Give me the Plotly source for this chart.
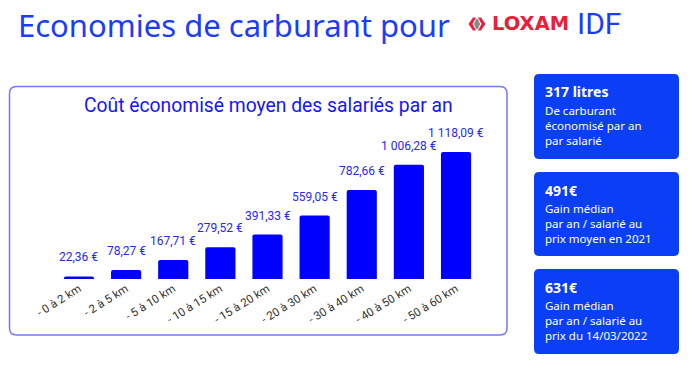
import plotly.graph_objects as go

W, H = 695, 376

categories = ["- 0 à 2 km", "- 2 à 5 km", "- 5 à 10 km", "- 10 à 15 km", "- 15 à 20 km",
              "- 20 à 30 km", "- 30 à 40 km", "- 40 à 50 km", "- 50 à 60 km"]
values = [22.36, 78.27, 167.71, 279.52, 391.33, 559.05, 782.66, 1006.28, 1118.09]
value_labels = ["22,36 €", "78,27 €", "167,71 €", "279,52 €", "391,33 €",
                "559,05 €", "782,66 €", "1 006,28 €", "1 118,09 €"]

card_titles = ["317 litres", "491€", "631€"]
card_lines = [
    ["De carburant", "économisé par an", "par salarié"],
    ["Gain médian", "par an / salarié au", "prix moyen en 2021"],
    ["Gain médian", "par an / salarié au", "prix du 14/03/2022"],
]

BLUE_BAR = "#0000ff"
CARD_BLUE = "#0b3ff5"
TITLE_BLUE = "#1a3cff"


def px(x):
    return x / W


def py(y):
    return 1 - y / H


def P(x, y):
    return f"{px(x):.5f},{py(y):.5f}"


def rrect(x0, y0, x1, y1, r):
    return (
        f"M {P(x0 + r, y0)} L {P(x1 - r, y0)} Q {P(x1, y0)} {P(x1, y0 + r)} "
        f"L {P(x1, y1 - r)} Q {P(x1, y1)} {P(x1 - r, y1)} "
        f"L {P(x0 + r, y1)} Q {P(x0, y1)} {P(x0, y1 - r)} "
        f"L {P(x0, y0 + r)} Q {P(x0, y0)} {P(x0 + r, y0)} Z"
    )


def poly(pts):
    return "M " + " L ".join(P(x, y) for x, y in pts) + " Z"


fig = go.Figure()
fig.add_trace(go.Bar(
    x=categories, y=values,
    marker=dict(color=BLUE_BAR, cornerradius=2, line=dict(width=0)),
    width=0.64, hoverinfo="skip",
))

annotations = []
for c, v, t in zip(categories, values, value_labels):
    annotations.append(dict(x=c, y=v, xref="x", yref="y", text=t, showarrow=False,
                            yanchor="bottom", yshift=10,
                            font=dict(family="Roboto", size=12, color="#2626ff")))

# headline
annotations.append(dict(x=px(16), y=py(25), xref="paper", yref="paper", xanchor="left",
                        yanchor="middle", showarrow=False, text="Economies de carburant pour",
                        font=dict(family="Noto Sans", size=31, color=TITLE_BLUE)))
annotations.append(dict(x=px(490), y=py(24), xref="paper", yref="paper", xanchor="left",
                        yanchor="middle", showarrow=False, text="<b>LOXAM</b>",
                        font=dict(family="DejaVu Sans", size=19.5, color="#e8203a")))
annotations.append(dict(x=px(575), y=py(24), xref="paper", yref="paper", xanchor="left",
                        yanchor="middle", showarrow=False, text="IDF",
                        font=dict(family="Roboto", size=30, color=TITLE_BLUE)))
# chart title
annotations.append(dict(x=px(268), y=py(105), xref="paper", yref="paper", xanchor="center",
                        yanchor="middle", showarrow=False,
                        text="Coût économisé moyen des salariés par an",
                        font=dict(family="Roboto", size=19.3, color="#1414ff")))

shapes = []
shapes.append(dict(type="path", xref="paper", yref="paper", path=rrect(9.5, 86.5, 507, 335, 7),
                   line=dict(color="#7676ff", width=1.5), fillcolor="rgba(0,0,0,0)", layer="below"))

card_y = [(74, 159), (172, 256), (269, 354)]
for (y0, y1), t, lines in zip(card_y, card_titles, card_lines):
    shapes.append(dict(type="path", xref="paper", yref="paper", path=rrect(534, y0, 679, y1, 5),
                       line=dict(width=0), fillcolor=CARD_BLUE, layer="below"))
    annotations.append(dict(x=px(543), y=py(y0 + 18), xref="paper", yref="paper", xanchor="left",
                            yanchor="middle", showarrow=False, text=f"<b>{t}</b>",
                            font=dict(family="Noto Sans", size=14, color="white")))
    annotations.append(dict(x=px(543), y=py(y0 + 51.5), xref="paper", yref="paper",
                            xanchor="left", yanchor="middle", align="left", showarrow=False,
                            text="<br>".join(lines),
                            font=dict(family="Noto Sans", size=11.5, color="white")))

# LOXAM icon: red chevrons with grey center
shapes.append(dict(type="path", xref="paper", yref="paper",
                   path=poly([(473, 17.5), (476, 17.5), (472.5, 24), (476, 30.5), (473, 30.5), (468.5, 24)]),
                   fillcolor="#e8203a", line=dict(width=0)))
shapes.append(dict(type="path", xref="paper", yref="paper",
                   path=poly([(478, 17.5), (481, 17.5), (485.5, 24), (481, 30.5), (478, 30.5), (481.5, 24)]),
                   fillcolor="#e8203a", line=dict(width=0)))
shapes.append(dict(type="path", xref="paper", yref="paper",
                   path=poly([(476, 19), (478, 19), (480, 24), (478, 29), (476, 29), (474, 24)]),
                   fillcolor="#8a8a8a", line=dict(width=0)))

ymax = 149 / (127 / 1118.09)

fig.update_layout(
    width=W, height=H,
    margin=dict(l=0, r=0, t=0, b=0),
    paper_bgcolor="white", plot_bgcolor="white",
    showlegend=False,
    bargap=0.36,
    xaxis=dict(domain=[px(55.4), px(479.6)], range=[-0.5, 8.5], showgrid=False, zeroline=False,
               showline=False, ticks="", tickangle=-32, automargin=False, fixedrange=True,
               tickfont=dict(family="Roboto", size=11.5, color="#333333")),
    yaxis=dict(domain=[py(279), py(130)], range=[0, ymax], visible=False, automargin=False,
               fixedrange=True),
    shapes=shapes,
    annotations=annotations,
)

fig.write_html("out.html", config={"displayModeBar": False},
               post_script="document.body.style.margin='0';document.body.style.padding='0';")
